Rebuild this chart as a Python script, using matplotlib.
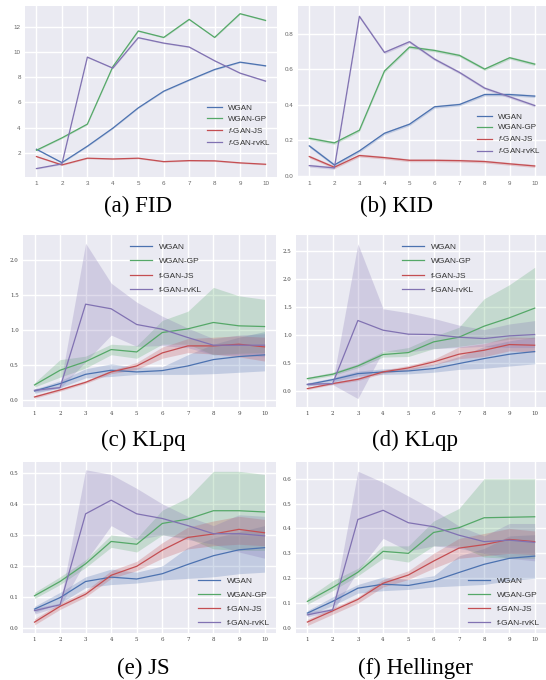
import numpy as np
import matplotlib
matplotlib.use("Agg")
import matplotlib.pyplot as plt

plt.rcParams["mathtext.fontset"] = "custom"
plt.rcParams["mathtext.it"] = "Liberation Sans:italic"
plt.rcParams["mathtext.rm"] = "Liberation Sans"

W, H = 546, 680
steps = list(range(1, 11))
names = ["WGAN", "WGAN-GP", "f-GAN-JS", "f-GAN-rvKL"]
colors = ["#4C72B0", "#55A868", "#C44E52", "#8172B2"]

# (a) FID
fid_wgan = [2.29, 1.23, 2.53, 3.96, 5.57, 6.89, 7.77, 8.61, 9.19, 8.90]
fid_wgangp = [2.21, 3.19, 4.28, 8.83, 11.66, 11.15, 12.58, 11.15, 13.03, 12.50]
fid_js = [1.71, 1.05, 1.58, 1.52, 1.58, 1.31, 1.39, 1.37, 1.21, 1.10]
fid_rvkl = [0.76, 1.13, 9.59, 8.72, 11.13, 10.70, 10.39, 9.30, 8.32, 7.69]

# (b) KID
kid_wgan = [0.169, 0.062, 0.141, 0.240, 0.291, 0.389, 0.402, 0.458, 0.458, 0.449]
kid_wgangp = [0.212, 0.186, 0.257, 0.590, 0.725, 0.706, 0.678, 0.601, 0.665, 0.629]
kid_js = [0.109, 0.049, 0.115, 0.103, 0.088, 0.088, 0.086, 0.081, 0.068, 0.056]
kid_rvkl = [0.058, 0.045, 0.898, 0.695, 0.755, 0.657, 0.582, 0.494, 0.445, 0.396]

# (c) KLpq  mean, lower, upper
klpq_wgan = [0.133, 0.238, 0.371, 0.429, 0.405, 0.424, 0.490, 0.581, 0.624, 0.648]
klpq_wgan_lo = [0.10, 0.18, 0.32, 0.34, 0.37, 0.37, 0.37, 0.38, 0.40, 0.42]
klpq_wgan_hi = [0.16, 0.28, 0.45, 0.52, 0.47, 0.48, 0.65, 0.80, 0.90, 0.98]
klpq_wgangp = [0.219, 0.429, 0.552, 0.724, 0.690, 0.967, 1.019, 1.110, 1.062, 1.052]
klpq_wgangp_lo = [0.19, 0.33, 0.46, 0.65, 0.60, 0.80, 0.80, 0.65, 0.67, 0.68]
klpq_wgangp_hi = [0.25, 0.58, 0.63, 0.80, 0.78, 1.14, 1.27, 1.61, 1.49, 1.44]
klpq_js = [0.048, 0.148, 0.257, 0.405, 0.490, 0.676, 0.776, 0.776, 0.800, 0.762]
klpq_js_lo = [0.03, 0.13, 0.24, 0.38, 0.44, 0.60, 0.68, 0.66, 0.62, 0.56]
klpq_js_hi = [0.07, 0.17, 0.28, 0.43, 0.54, 0.76, 0.88, 0.90, 0.92, 0.90]
klpq_rvkl = [0.143, 0.181, 1.371, 1.305, 1.081, 1.014, 0.895, 0.786, 0.786, 0.786]
klpq_rvkl_lo = [0.12, 0.17, 0.55, 0.93, 0.77, 0.78, 0.75, 0.65, 0.65, 0.62]
klpq_rvkl_hi = [0.17, 0.20, 2.24, 1.67, 1.40, 1.20, 1.03, 0.88, 0.93, 0.95]

# (d) KLqp
klqp_wgan = [0.119, 0.208, 0.315, 0.345, 0.363, 0.405, 0.494, 0.583, 0.661, 0.708]
klqp_wgan_lo = [0.09, 0.17, 0.27, 0.30, 0.31, 0.34, 0.39, 0.41, 0.45, 0.49]
klqp_wgan_hi = [0.15, 0.24, 0.36, 0.40, 0.41, 0.48, 0.62, 0.80, 0.90, 0.97]
klqp_wgangp = [0.226, 0.304, 0.452, 0.655, 0.690, 0.881, 0.964, 1.161, 1.310, 1.482]
klqp_wgangp_lo = [0.20, 0.28, 0.42, 0.61, 0.62, 0.76, 0.80, 0.86, 0.93, 0.95]
klqp_wgangp_hi = [0.25, 0.34, 0.49, 0.71, 0.78, 0.98, 1.14, 1.65, 1.90, 2.21]
klqp_js = [0.048, 0.137, 0.214, 0.345, 0.417, 0.524, 0.661, 0.732, 0.833, 0.821]
klqp_js_lo = [0.03, 0.12, 0.19, 0.32, 0.38, 0.47, 0.58, 0.62, 0.72, 0.70]
klqp_js_hi = [0.07, 0.16, 0.24, 0.38, 0.46, 0.57, 0.79, 0.85, 0.97, 0.96]
klqp_rvkl = [0.125, 0.137, 1.262, 1.089, 1.018, 1.012, 0.964, 0.940, 0.988, 1.012]
klqp_rvkl_lo = [0.10, 0.12, -0.13, 0.72, 0.70, 0.76, 0.78, 0.80, 0.78, 0.78]
klqp_rvkl_hi = [0.15, 0.16, 2.63, 1.47, 1.40, 1.30, 1.18, 1.10, 1.20, 1.26]

# (e) JS
js_wgan = [0.061, 0.098, 0.150, 0.164, 0.158, 0.175, 0.205, 0.233, 0.252, 0.259]
js_wgan_lo = [0.05, 0.08, 0.13, 0.14, 0.145, 0.155, 0.16, 0.165, 0.175, 0.18]
js_wgan_hi = [0.07, 0.115, 0.165, 0.19, 0.18, 0.20, 0.26, 0.29, 0.31, 0.33]
js_wgangp = [0.104, 0.150, 0.207, 0.279, 0.270, 0.337, 0.351, 0.378, 0.378, 0.374]
js_wgangp_lo = [0.095, 0.14, 0.195, 0.26, 0.245, 0.30, 0.29, 0.255, 0.25, 0.25]
js_wgangp_hi = [0.115, 0.165, 0.22, 0.30, 0.29, 0.38, 0.42, 0.505, 0.505, 0.495]
js_js = [0.019, 0.070, 0.109, 0.170, 0.199, 0.251, 0.292, 0.303, 0.318, 0.307]
js_js_lo = [0.01, 0.06, 0.10, 0.16, 0.185, 0.225, 0.255, 0.265, 0.27, 0.265]
js_js_hi = [0.03, 0.08, 0.12, 0.185, 0.215, 0.275, 0.325, 0.345, 0.36, 0.35]
js_rvkl = [0.056, 0.075, 0.368, 0.412, 0.368, 0.353, 0.330, 0.304, 0.304, 0.297]
js_rvkl_lo = [0.045, 0.07, 0.215, 0.33, 0.285, 0.30, 0.285, 0.27, 0.245, 0.225]
js_rvkl_hi = [0.065, 0.08, 0.51, 0.495, 0.45, 0.40, 0.36, 0.33, 0.365, 0.36]

# (f) Hellinger
he_wgan = [0.060, 0.107, 0.160, 0.176, 0.171, 0.189, 0.223, 0.256, 0.280, 0.289]
he_wgan_lo = [0.05, 0.09, 0.14, 0.15, 0.155, 0.165, 0.17, 0.175, 0.19, 0.20]
he_wgan_hi = [0.07, 0.125, 0.175, 0.205, 0.195, 0.21, 0.29, 0.32, 0.37, 0.375]
he_wgangp = [0.107, 0.163, 0.224, 0.308, 0.300, 0.384, 0.403, 0.443, 0.445, 0.447]
he_wgangp_lo = [0.095, 0.15, 0.21, 0.28, 0.265, 0.33, 0.33, 0.285, 0.28, 0.28]
he_wgangp_hi = [0.12, 0.19, 0.24, 0.33, 0.33, 0.43, 0.48, 0.60, 0.60, 0.60]
he_js = [0.024, 0.069, 0.115, 0.180, 0.213, 0.269, 0.321, 0.335, 0.356, 0.347]
he_js_lo = [0.01, 0.055, 0.10, 0.165, 0.195, 0.24, 0.28, 0.29, 0.30, 0.295]
he_js_hi = [0.035, 0.08, 0.125, 0.195, 0.23, 0.30, 0.36, 0.38, 0.40, 0.39]
he_rvkl = [0.053, 0.073, 0.436, 0.473, 0.423, 0.407, 0.373, 0.347, 0.353, 0.344]
he_rvkl_lo = [0.045, 0.065, 0.23, 0.36, 0.31, 0.33, 0.32, 0.30, 0.28, 0.27]
he_rvkl_hi = [0.065, 0.08, 0.63, 0.585, 0.53, 0.475, 0.41, 0.37, 0.42, 0.42]

captions = ["(a) FID", "(b) KID", "(c) KLpq", "(d) KLqp", "(e) JS", "(f) Hellinger"]

fig = plt.figure(figsize=(W / 100, H / 100), dpi=100)
fig.patch.set_facecolor("white")


def make_ax(l, t, r, b):
    ax = fig.add_axes([l / W, 1 - b / H, (r - l) / W, (b - t) / H])
    ax.set_facecolor("#EAEAF2")
    for s in ax.spines.values():
        s.set_visible(False)
    ax.grid(True, color="white", linewidth=1.0)
    ax.set_axisbelow(True)
    ax.tick_params(length=0, pad=3)
    ax.set_xticks(steps)
    return ax


def style_ticks(ax, serif):
    for lab in ax.get_xticklabels() + ax.get_yticklabels():
        if serif:
            lab.set_fontfamily("DejaVu Serif")
            lab.set_fontsize(4.0)
            lab.set_color("#444444")
        else:
            lab.set_fontfamily("Liberation Sans")
            lab.set_fontsize(4.5)
            lab.set_color("#666666")


# ---- top row: thin bands, italic f in legend
top_data = [
    (fid_wgan, fid_wgangp, fid_js, fid_rvkl),
    (kid_wgan, kid_wgangp, kid_js, kid_rvkl),
]
top_pos = [(25, 6, 277, 177), (298, 6, 546, 177)]
top_ylims = [(0.09, 13.64), (-0.006, 0.956)]
top_yticks = [[2, 4, 6, 8, 10, 12], [0.0, 0.2, 0.4, 0.6, 0.8]]
top_band = [0.05, 0.008]
top_legpos = [(0.692, 0.30), (0.692, 0.25)]
top_labels = ["WGAN", "WGAN-GP", r"$f$-GAN-JS", r"$f$-GAN-rvKL"]
for i in range(2):
    ax = make_ax(*top_pos[i])
    for k, ys in enumerate(top_data[i]):
        ys = np.array(ys)
        ax.fill_between(steps, ys - top_band[i], ys + top_band[i], color=colors[k], alpha=0.25, linewidth=0)
        ax.plot(steps, ys, color=colors[k], lw=0.9, label=top_labels[k])
    ax.set_xlim(0.55, 10.45)
    ax.set_ylim(*top_ylims[i])
    ax.set_yticks(top_yticks[i])
    if i == 1:
        ax.set_yticklabels(["0.0", "0.2", "0.4", "0.6", "0.8"])
    style_ticks(ax, serif=False)
    leg = ax.legend(loc="center left", bbox_to_anchor=top_legpos[i], frameon=False,
                    prop={"family": "Liberation Sans", "size": 5.8}, handlelength=1.9,
                    labelspacing=0.38, handletextpad=0.75)
    for t in leg.get_texts():
        t.set_color("#333333")

# ---- rows 2-3 with bands
bot_sets = [
    [(klpq_wgan, klpq_wgan_lo, klpq_wgan_hi), (klpq_wgangp, klpq_wgangp_lo, klpq_wgangp_hi),
     (klpq_js, klpq_js_lo, klpq_js_hi), (klpq_rvkl, klpq_rvkl_lo, klpq_rvkl_hi)],
    [(klqp_wgan, klqp_wgan_lo, klqp_wgan_hi), (klqp_wgangp, klqp_wgangp_lo, klqp_wgangp_hi),
     (klqp_js, klqp_js_lo, klqp_js_hi), (klqp_rvkl, klqp_rvkl_lo, klqp_rvkl_hi)],
    [(js_wgan, js_wgan_lo, js_wgan_hi), (js_wgangp, js_wgangp_lo, js_wgangp_hi),
     (js_js, js_js_lo, js_js_hi), (js_rvkl, js_rvkl_lo, js_rvkl_hi)],
    [(he_wgan, he_wgan_lo, he_wgan_hi), (he_wgangp, he_wgangp_lo, he_wgangp_hi),
     (he_js, he_js_lo, he_js_hi), (he_rvkl, he_rvkl_lo, he_rvkl_hi)],
]
bot_pos = [(23, 235, 276, 407), (296, 235, 546, 407), (23, 462, 276, 633), (296, 462, 546, 633)]
bot_ylims = [(-0.095, 2.357), (-0.28, 2.786), (-0.016, 0.535), (-0.02, 0.667)]
bot_yticks = [[0.0, 0.5, 1.0, 1.5, 2.0], [0.0, 0.5, 1.0, 1.5, 2.0, 2.5],
              [0.0, 0.1, 0.2, 0.3, 0.4, 0.5], [0.0, 0.1, 0.2, 0.3, 0.4, 0.5, 0.6]]
bot_leg = [("upper left", (0.40, 0.985)), ("upper left", (0.40, 0.985)),
           ("lower right", (1.0, 0.0)), ("lower right", (1.0, 0.0))]
for i in range(4):
    ax = make_ax(*bot_pos[i])
    for k, (m, lo, hi) in enumerate(bot_sets[i]):
        ax.fill_between(steps, lo, hi, color=colors[k], alpha=0.25, linewidth=0)
        ax.plot(steps, m, color=colors[k], lw=0.9, label=names[k])
    ax.set_xlim(0.55, 10.45)
    ax.set_ylim(*bot_ylims[i])
    ax.set_yticks(bot_yticks[i])
    ax.set_yticklabels(["%.1f" % v for v in bot_yticks[i]])
    style_ticks(ax, serif=True)
    leg = ax.legend(loc=bot_leg[i][0], bbox_to_anchor=bot_leg[i][1], frameon=False,
                    prop={"family": "Liberation Sans", "size": 6.0}, handlelength=2.65,
                    labelspacing=0.76, handletextpad=0.85, borderaxespad=0.3)
    for t in leg.get_texts():
        t.set_color("#333333")

cap_xy = [(138, 206), (397, 206), (143, 440), (415, 440), (143, 668), (415, 668)]
for c, (x, y) in zip(captions, cap_xy):
    fig.text(x / W, 1 - y / H, c, ha="center", va="center",
             family="Liberation Serif", fontsize=16.5, color="black")

fig.savefig("out.png", dpi=100)
